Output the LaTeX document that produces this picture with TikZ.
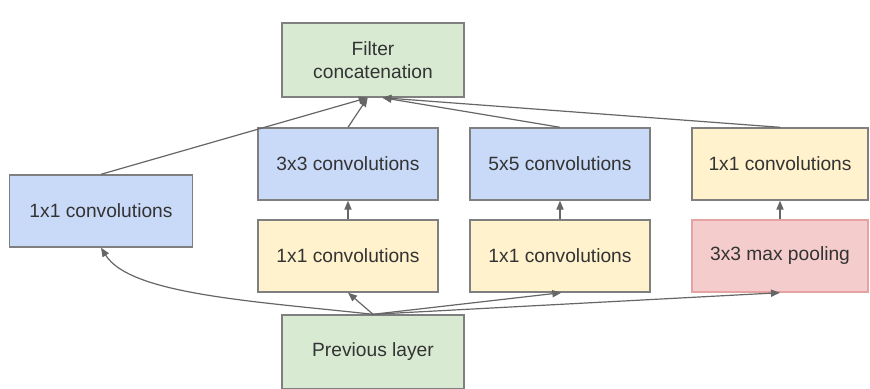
\documentclass[tikz,border=0pt]{standalone}
\usepackage{fontspec}
\setmainfont{Liberation Sans}
\usetikzlibrary{arrows.meta}
\definecolor{bluebox}{HTML}{C9DAF8}
\definecolor{yellowbox}{HTML}{FFF2CC}
\definecolor{greenbox}{HTML}{D9EAD3}
\definecolor{redbox}{HTML}{F4CCCC}
\definecolor{redline}{HTML}{E6A3A3}
\definecolor{boxline}{HTML}{7F7F7F}
\definecolor{txt}{HTML}{333333}
\definecolor{arr}{HTML}{666666}
\tikzset{box/.style={draw=boxline,line width=0.7pt,minimum width=90pt,minimum height=36pt,
  text=txt,align=center,font=\fontsize{9.6}{11.5}\selectfont},
 convbox/.style={box,fill=bluebox},
 reducebox/.style={box,fill=yellowbox},
 layerbox/.style={box,fill=greenbox,minimum width=91pt,minimum height=37pt},
 poolbox/.style={box,fill=redbox,draw=redline},
 link/.style={draw=arr,line width=0.6pt,-{Triangle[length=4.5pt,width=3.6pt]}},
 }

\begin{document}
\begin{tikzpicture}[x=0.5pt,y=0.5pt]
        \useasboundingbox[fill=white] (0,0) rectangle (870,389);
        % top and bottom
        \node[layerbox] (concat) at (373,329) {Filter\\concatenation};
        \node[layerbox] (prev) at (373,37) {Previous layer};
        % branches
        \node[convbox,minimum width=91.5pt] (left) at (101,178) {1x1 convolutions};
        \node[convbox] (conv3) at (348,225) {3x3 convolutions};
        \node[convbox] (conv5) at (560,225) {5x5 convolutions};
        \node[reducebox,minimum width=88pt] (proj) at (780,225) {1x1 convolutions};
        \node[reducebox] (red3) at (348,133) {1x1 convolutions};
        \node[reducebox] (red5) at (560,133) {1x1 convolutions};
        \node[poolbox,minimum width=88pt] (pool) at (780,133) {3x3 max pooling};
        % inputs
        \draw[link] (prev.north) .. controls (250,88) and (130,95) .. (left.south);
        \draw[link] (prev.north) -- (red3.south);
        \draw[link] (prev.north) -- (red5.-88);
        \draw[link] (prev.north) -- (pool.south);
        % inside branches
        \draw[link] (red3.north) -- (conv3.south);
        \draw[link] (red5.north) -- (conv5.south);
        \draw[link] (pool.north) -- (proj.south);
        % outputs
        \draw[link] (left.north) -- (concat.262);
        \draw[link] (conv3.north) -- (concat.262);
        \draw[link] (conv5.north) -- (concat.284);
        \draw[link] (proj.north) -- (concat.284);
    \end{tikzpicture}
\end{document}
